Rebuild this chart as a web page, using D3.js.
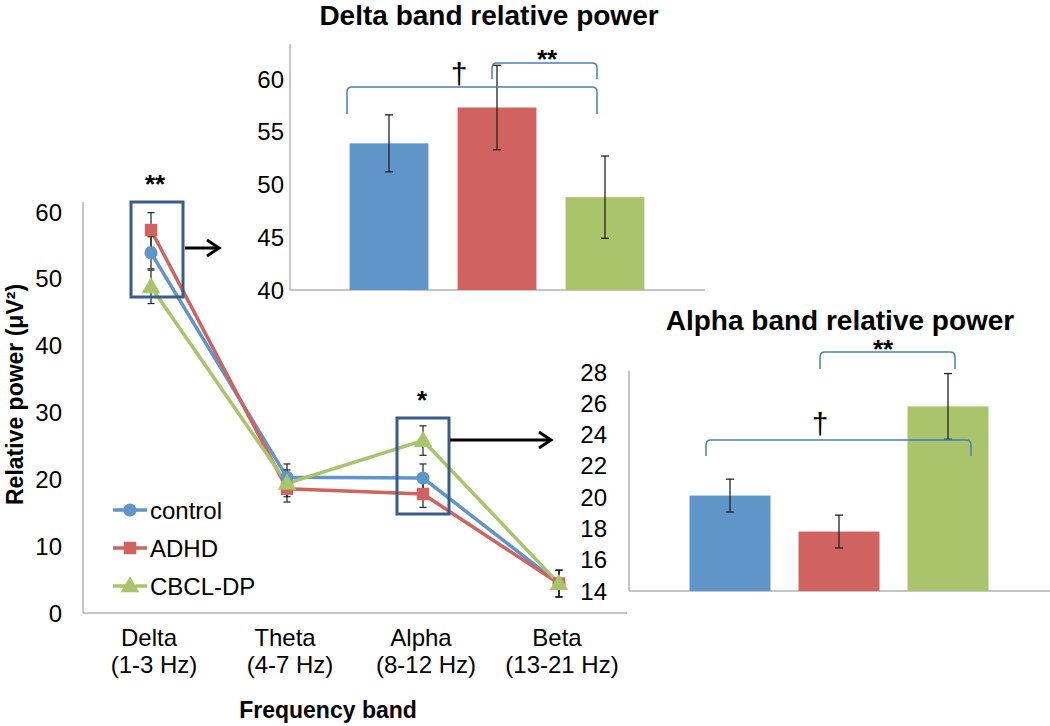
<!DOCTYPE html>
<html><head><meta charset="utf-8">
<script src="https://cdn.jsdelivr.net/npm/d3@7"></script>
<style>
html,body{margin:0;padding:0;background:#fff;}
svg{display:block;font-family:Arial,"Liberation Sans",Helvetica,sans-serif;}
</style></head>
<body><svg id="c" width="1050" height="726"></svg>
<script>
// ---------- data ----------
const groups = ["control", "ADHD", "CBCL-DP"];
const colors = ["#6095C9", "#D0635F", "#A9C46B"];
const bands = ["Delta", "Theta", "Alpha", "Beta"];
const bandRanges = ["(1-3 Hz)", "(4-7 Hz)", "(8-12 Hz)", "(13-21 Hz)"];
const controlVals = [53.9, 20.3, 20.2, 4.4];
const adhdVals    = [57.3, 18.6, 17.8, 4.4];
const cbclVals    = [48.8, 19.4, 25.8, 4.4];
const controlErr  = [2.4, 2.0, 2.1, 2.0];
const adhdErr     = [2.6, 2.0, 2.0, 2.0];
const cbclErr     = [2.5, 2.0, 2.2, 2.0];
const mainTicks = [0, 10, 20, 30, 40, 50, 60];

const deltaVals = [53.9, 57.3, 48.8];
const deltaErr  = [2.7, 4.0, 3.9];
const deltaTicks = [40, 45, 50, 55, 60];

const alphaVals = [20.1, 17.8, 25.8];
const alphaErr  = [1.05, 1.05, 2.1];
const alphaTicks = [14, 16, 18, 20, 22, 24, 26, 28];

const seriesVals = [controlVals, adhdVals, cbclVals];
const seriesErr = [controlErr, adhdErr, cbclErr];

// ---------- setup ----------
const svg = d3.select("#c");
const AX = "#B3B3B3";
const BR = "#4A7EBB";
const BOX = "#385D8A";

function txt(x, y, s, opt = {}) {
  return svg.append("text")
    .attr("x", x).attr("y", y)
    .attr("text-anchor", opt.anchor || "middle")
    .attr("font-size", opt.size || 24)
    .attr("font-weight", opt.bold ? "bold" : "normal")
    .attr("fill", "#000")
    .text(s);
}

// ---------- main line chart ----------
const x = d3.scalePoint(bands, [83, 627]).padding(0.5);
const y = d3.scaleLinear([0, 60], [613, 212]);

svg.append("line").attr("x1", 83).attr("x2", 83).attr("y1", y(0)).attr("y2", y(61.5))
  .attr("stroke", AX).attr("stroke-width", 1.5);
svg.append("line").attr("x1", 83).attr("x2", 627).attr("y1", y(0)).attr("y2", y(0))
  .attr("stroke", AX).attr("stroke-width", 1.5);

mainTicks.forEach(t => txt(62, y(t) + 8.5, t, {anchor: "end"}));
bands.forEach((b, i) => {
  txt(x(b) - 2, 646, b);
  txt(x(b) + 3, 673, bandRanges[i]);
});
txt(15, y(32.7), "Relative power (μV²)", {bold: true, size: 23})
  .attr("transform", `rotate(-90,15,${y(32.7)})`).attr("dy", 8);
txt(328, 718, "Frequency band", {bold: true, size: 23});

// lines
const line = d3.line().x((d, i) => x(bands[i])).y(d => y(d));
seriesVals.forEach((vals, s) => {
  svg.append("path").attr("d", line(vals)).attr("fill", "none")
    .attr("stroke", colors[s]).attr("stroke-width", 3.5);
});
// error bars
seriesVals.forEach((vals, s) => {
  vals.forEach((v, i) => {
    const cx = x(bands[i]), e = seriesErr[s][i];
    const g = svg.append("g").attr("stroke", "#222").attr("stroke-width", 1.2);
    g.append("line").attr("x1", cx).attr("x2", cx).attr("y1", y(v - e)).attr("y2", y(v + e));
    g.append("line").attr("x1", cx - 3.5).attr("x2", cx + 3.5).attr("y1", y(v - e)).attr("y2", y(v - e));
    g.append("line").attr("x1", cx - 3.5).attr("x2", cx + 3.5).attr("y1", y(v + e)).attr("y2", y(v + e));
  });
});
// markers
const symTypes = [d3.symbolCircle, d3.symbolSquare, d3.symbolTriangle];
const symSizes = [135, 155, 150];
function marker(cx, cy, s) {
  svg.append("path").attr("d", d3.symbol(symTypes[s], symSizes[s])())
    .attr("transform", `translate(${cx},${cy + (s === 2 ? 1 : 0)})`)
    .attr("fill", colors[s]);
}
seriesVals.forEach((vals, s) => vals.forEach((v, i) => marker(x(bands[i]), y(v), s)));

// legend
const legY = [510, 548, 586];
groups.forEach((g, s) => {
  svg.append("line").attr("x1", 113).attr("x2", 147).attr("y1", legY[s]).attr("y2", legY[s])
    .attr("stroke", colors[s]).attr("stroke-width", 3.5);
  marker(130, legY[s], s);
  txt(150, legY[s] + 9, g, {anchor: "start"});
});

// highlight boxes and arrows
svg.append("rect").attr("x", 131).attr("y", 202).attr("width", 52).attr("height", 95)
  .attr("fill", "none").attr("stroke", BOX).attr("stroke-width", 3);
svg.append("rect").attr("x", 397).attr("y", 418).attr("width", 52).attr("height", 96)
  .attr("fill", "none").attr("stroke", BOX).attr("stroke-width", 3);
function arrow(x1, x2, yy) {
  svg.append("line").attr("x1", x1).attr("x2", x2 - 1).attr("y1", yy).attr("y2", yy)
    .attr("stroke", "#000").attr("stroke-width", 3);
  svg.append("path").attr("d", `M${x2 - 12},${yy - 8} L${x2},${yy} L${x2 - 12},${yy + 8}`)
    .attr("fill", "none").attr("stroke", "#000").attr("stroke-width", 3);
}
arrow(185, 219, 248);
arrow(450, 551, 440);
txt(155, 193, "**", {bold: true, size: 26});
txt(422, 409, "*", {bold: true, size: 26});

// ---------- inset bar charts ----------
function bracket(x1, x2, yTop, yBot) {
  const r = 5;
  svg.append("path")
    .attr("d", `M${x1},${yBot} L${x1},${yTop + r} Q${x1},${yTop} ${x1 + r},${yTop} L${x2 - r},${yTop} Q${x2},${yTop} ${x2},${yTop + r} L${x2},${yBot}`)
    .attr("fill", "none").attr("stroke", BR).attr("stroke-width", 1.5);
}
function inset(vals, errs, ticks, xr, yScale, axisX0, axisX1, axisTop, labelX, pad) {
  const xb = d3.scaleBand(groups, xr).paddingInner(pad).paddingOuter(pad / 2);
  svg.append("line").attr("x1", axisX0).attr("x2", axisX0).attr("y1", yScale(ticks[0])).attr("y2", yScale(axisTop))
    .attr("stroke", AX).attr("stroke-width", 1.5);
  svg.append("line").attr("x1", axisX0).attr("x2", axisX1).attr("y1", yScale(ticks[0])).attr("y2", yScale(ticks[0]))
    .attr("stroke", AX).attr("stroke-width", 1.5);
  ticks.forEach(t => txt(labelX, yScale(t) + 8.5, t, {anchor: "end"}));
  groups.forEach((g, s) => {
    svg.append("rect").attr("x", xb(g)).attr("width", xb.bandwidth())
      .attr("y", yScale(vals[s])).attr("height", yScale(ticks[0]) - yScale(vals[s]))
      .attr("fill", colors[s]);
  });
  groups.forEach((g, s) => {
    const cx = xb(g) + xb.bandwidth() / 2, v = vals[s], e = errs[s];
    const gg = svg.append("g").attr("stroke", "#222").attr("stroke-width", 1.3);
    gg.append("line").attr("x1", cx).attr("x2", cx).attr("y1", yScale(v - e)).attr("y2", yScale(v + e));
    gg.append("line").attr("x1", cx - 4).attr("x2", cx + 4).attr("y1", yScale(v - e)).attr("y2", yScale(v - e));
    gg.append("line").attr("x1", cx - 4).attr("x2", cx + 4).attr("y1", yScale(v + e)).attr("y2", yScale(v + e));
  });
}

// Delta inset
const yD = d3.scaleLinear([40, 60], [290, 79]);
inset(deltaVals, deltaErr, deltaTicks, [335, 659], yD, 290, 705, 63.3, 284, 0.27);
txt(489, 25, "Delta band relative power", {bold: true, size: 28});
bracket(347, 597, 87, 114);
bracket(492, 597, 63, 79);
txt(459, 84, "†", {size: 30});
txt(547, 68, "**", {bold: true, size: 26});

// Alpha inset
const yA = d3.scaleLinear([14, 28], [591, 372]);
inset(alphaVals, alphaErr, alphaTicks, [675.5, 1002.5], yA, 629, 1050, 28.1, 607, 0.257);
txt(840, 330, "Alpha band relative power", {bold: true, size: 28});
bracket(820, 955, 352, 369);
bracket(706, 971, 440, 456);
txt(820, 434, "†", {size: 30});
txt(883, 358, "**", {bold: true, size: 26});
</script></body></html>
